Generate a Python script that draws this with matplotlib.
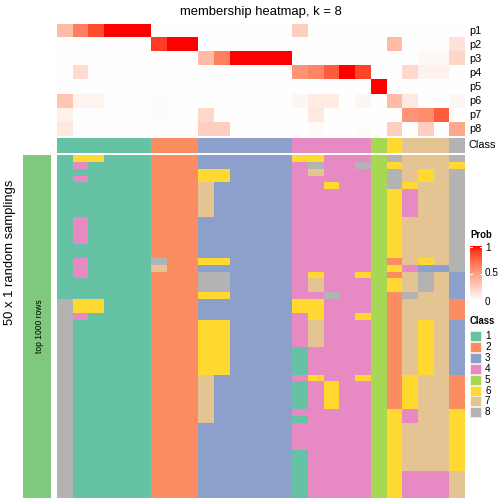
import numpy as np
import matplotlib
matplotlib.use("Agg")
import matplotlib.pyplot as plt
from matplotlib.colors import ListedColormap
from matplotlib.patches import Rectangle

plt.rcParams['font.family'] = ['Liberation Sans', 'DejaVu Sans']

# ---------------- data ----------------
title = "membership heatmap, k = 8"
prob_labels = ["p1", "p2", "p3", "p4", "p5", "p6", "p7", "p8"]
class_labels = ["1", "2", "3", "4", "5", "6", "7", "8"]
class_colors = ["#66C2A5", "#FC8D62", "#8DA0CB", "#E78AC3",
                "#A6D854", "#FFD92F", "#E5C494", "#B3B3B3"]
prob_ticks = [0, 0.5, 1]
prob_tick_labels = ["0", "0.5", "1"]

column_class = [1, 1, 1, 1, 1, 1, 2, 2, 2, 3, 3, 3, 3, 3, 3,
                4, 4, 4, 4, 4, 5, 6, 7, 7, 7, 8]

p1 = [0.35, 0.65, 0.85, 1, 1, 1, 0, 0, 0, 0, 0, 0, 0, 0, 0,
      0.25, 0, 0, 0, 0, 0, 0, 0, 0, 0, 0]
p2 = [0, 0, 0, 0, 0, 0, 0.9, 1, 1, 0, 0, 0, 0, 0, 0,
      0, 0, 0, 0, 0, 0, 0.35, 0, 0, 0, 0.15]
p3 = [0, 0, 0, 0, 0, 0, 0, 0, 0, 0.35, 0.65, 1, 1, 1, 1,
      0, 0, 0, 0, 0, 0, 0, 0, 0.03, 0.03, 0.22]
p4 = [0, 0.18, 0, 0, 0, 0, 0, 0, 0, 0, 0, 0, 0, 0, 0,
      0.55, 0.62, 0.8, 1, 0.88, 0, 0, 0.2, 0.07, 0.07, 0]
p5 = [0, 0, 0, 0, 0, 0, 0, 0, 0, 0, 0, 0, 0, 0, 0,
      0, 0, 0, 0, 0, 1, 0, 0, 0, 0, 0]
p6 = [0.3, 0.06, 0.06, 0, 0, 0, 0.02, 0, 0, 0, 0, 0, 0, 0, 0,
      0.05, 0.1, 0.1, 0, 0.05, 0, 0.35, 0.12, 0, 0, 0.05]
p7 = [0.08, 0, 0, 0, 0, 0, 0.02, 0, 0, 0.2, 0, 0, 0, 0, 0,
      0, 0.12, 0, 0, 0, 0, 0, 0.55, 0.58, 0.8, 0]
p8 = [0.12, 0, 0, 0, 0, 0, 0, 0, 0, 0.25, 0.25, 0, 0, 0, 0,
      0, 0.02, 0, 0, 0.02, 0, 0.25, 0, 0.25, 0, 0.45]

# class assigned to each sample (column) in each of 50 random samplings (rows)
samplings = [
    "16611122233333366444587778",
    "14111122233333348448567776",
    "11111122266333347444587678",
    "14111122266333344444587678",
    "11111122273333344644586778",
    "11111122273333344444564778",
    "11111122273333344444564778",
    "11111122273333344444564778",
    "11111122273333344444564778",
    "14111122233333344444567778",
    "14111122233333344444567778",
    "14111122233333344444567778",
    "14111122233333344444567778",
    "11111122233333344444567778",
    "11111122233333344444567778",
    "14111182266333344444527678",
    "14111172233333344444564338",
    "14111122288333346446527873",
    "11111122288333347444567873",
    "11111122288333347444567873",
    "11111122266333344844528773",
    "86611122233333366444527772",
    "86611122233333366444527772",
    "84111122233333346446527772",
    "81111122266333347444527673",
    "81111122266333347444527673",
    "81111122266333347444527673",
    "81111122266333347444527673",
    "81111122266333314444527673",
    "81111122266333314444527673",
    "81111122266333314444527673",
    "81111122266333314444527673",
    "81111122273333346446526772",
    "81111122273333314644526772",
    "81111122273333314644526772",
    "81111122273333314644526772",
    "81111122273333314644526772",
    "81111122273333344444564776",
    "81111122273333314444564776",
    "81111122233333344444567776",
    "81111122233333344444567776",
    "81111122233333344444567776",
    "81111122233333344444567776",
    "81111122233333314444567776",
    "81111122233333314444567776",
    "81111122233333314444567776",
    "81111122233333314444564447",
    "81111122233333314444564447",
    "81111122233333314444564447",
    "81111122233333314444564447",
]

# ---------------- colour map (white -> red, interpolated in LAB) ----------------
_M = np.array([[0.4124, 0.3576, 0.1805], [0.2126, 0.7152, 0.0722], [0.0193, 0.1192, 0.9505]])
_WP = np.array([0.95047, 1.0, 1.08883])

def _srgb_to_lab(rgb):
    c = np.asarray(rgb, float)
    lin = np.where(c <= 0.04045, c / 12.92, ((c + 0.055) / 1.055) ** 2.4)
    xyz = _M @ lin / _WP
    d = 6 / 29
    f = np.where(xyz > d ** 3, np.cbrt(xyz), xyz / (3 * d * d) + 4 / 29)
    return np.array([116 * f[1] - 16, 500 * (f[0] - f[1]), 200 * (f[1] - f[2])])

def _lab_to_srgb(lab):
    L, a, b = lab
    d = 6 / 29
    fy = (L + 16) / 116
    f = np.array([fy + a / 500, fy, fy - b / 200])
    xyz = np.where(f > d, f ** 3, 3 * d * d * (f - 4 / 29)) * _WP
    lin = np.clip(np.linalg.inv(_M) @ xyz, 0, 1)
    c = np.where(lin <= 0.0031308, 12.92 * lin, 1.055 * lin ** (1 / 2.4) - 0.055)
    return np.clip(c, 0, 1)

_w = _srgb_to_lab([1, 1, 1])
_r = _srgb_to_lab([1, 0, 0])
prob_cmap = ListedColormap([_lab_to_srgb(_w + (_r - _w) * t) for t in np.linspace(0, 1, 256)])
class_cmap = ListedColormap(class_colors)

# ---------------- figure ----------------
W = H = 504
fig = plt.figure(figsize=(W / 72, H / 72), dpi=72)

def ax_px(x0, y0, x1, y1):
    return fig.add_axes([x0 / W, 1 - y1 / H, (x1 - x0) / W, (y1 - y0) / H])

L_, R_ = 57, 465
P = np.array([p1, p2, p3, p4, p5, p6, p7, p8])
ncol = P.shape[1]

ax1 = ax_px(L_, 24, R_, 136.5)
ax1.imshow(P, cmap=prob_cmap, vmin=0, vmax=1, aspect="auto", interpolation="nearest")
ax1.set_axis_off()
for i, lab in enumerate(prob_labels):
    ax1.text(ncol - 0.5 + 0.25, i, lab, ha="left", va="center", fontsize=11)

ax2 = ax_px(L_, 138, R_, 153)
ax2.imshow(np.array([column_class]) - 1, cmap=class_cmap, vmin=-0.5, vmax=7.5,
           aspect="auto", interpolation="nearest")
ax2.set_axis_off()
ax2.text(ncol - 0.5 + 0.25, 0, "Class", ha="left", va="center", fontsize=11)

Mx = np.array([[int(ch) for ch in row] for row in samplings])
ax3 = ax_px(L_, 155, R_, 498)
ax3.imshow(Mx - 1, cmap=class_cmap, vmin=-0.5, vmax=7.5, aspect="auto", interpolation="nearest")
ax3.set_axis_off()

axg = ax_px(23, 155, 51, 498)
axg.set_xlim(0, 1)
axg.set_ylim(0, 1)
axg.add_patch(Rectangle((0, 0), 1, 1, color="#7FC97F", lw=0))
axg.set_axis_off()
axg.text(0.6, 0.5, "top 1000 rows", rotation=90, ha="center", va="center", fontsize=8.5)

fig.text(10 / W, 1 - 252 / H, "50 x 1 random samplings", rotation=90,
         ha="center", va="center", fontsize=13)
fig.text(261 / W, 1 - 12 / H, title, ha="center", va="center", fontsize=13)

# ---------------- legends ----------------
fig.text(470 / W, 1 - 235 / H, "Prob", ha="left", va="center", fontsize=9.5, fontweight="bold")
cb_top, cb_bot = 246, 301
axc = ax_px(470, cb_top, 482, cb_bot)
grad = np.linspace(1, 0, 100).reshape(-1, 1)
axc.imshow(grad, cmap=prob_cmap, vmin=0, vmax=1, aspect="auto", extent=[0, 1, 0, 1])
axc.set_xlim(0, 1)
axc.set_ylim(0, 1)
for v in prob_ticks:
    yv = min(max(v, 0.02), 0.98)
    axc.plot([0, 0.2], [yv, yv], color="white", lw=1)
    axc.plot([0.8, 1], [yv, yv], color="white", lw=1)
axc.set_axis_off()
for v, lab in zip(prob_ticks, prob_tick_labels):
    ypx = cb_bot - (cb_bot - cb_top) * v
    ypx = {0: ypx + 1, 1: ypx + 2}.get(v, ypx)
    fig.text(485 / W, 1 - ypx / H, lab, ha="left", va="center", fontsize=10)

fig.text(470 / W, 1 - 321 / H, "Class", ha="left", va="center", fontsize=9.5, fontweight="bold")
for i, (lab, col) in enumerate(zip(class_labels, class_colors)):
    y0 = 331 + i * 10.9
    fig.patches.append(Rectangle((470 / W, 1 - (y0 + 10) / H), 11 / W, 10 / H,
                                 transform=fig.transFigure, facecolor=col,
                                 edgecolor="white", lw=0.5))
    fig.text(485 / W, 1 - (y0 + 5) / H, lab, ha="left", va="center", fontsize=10)

fig.savefig("out.png", dpi=72)
